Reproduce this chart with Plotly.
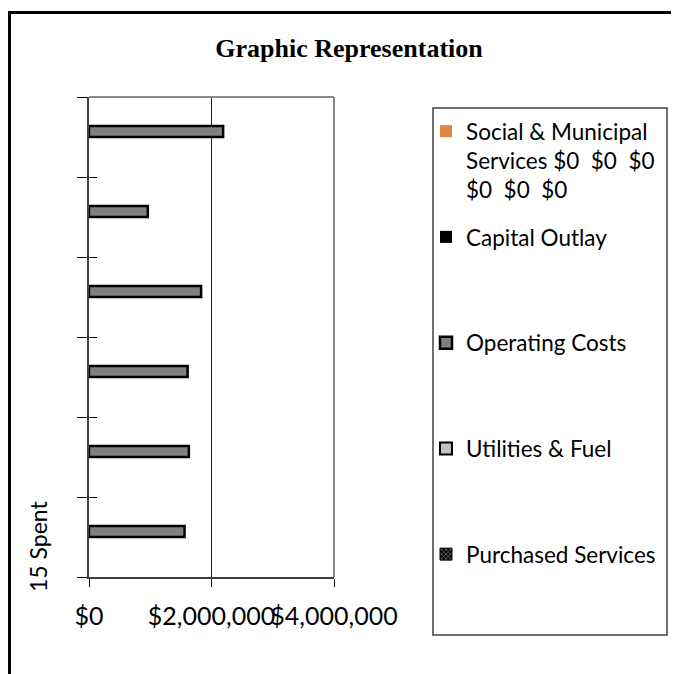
import plotly.graph_objects as go

# ---- data ----
categories = ["Year 1", "Year 2", "Year 3", "Year 4", "Year 5", "Year 6"]  # bottom -> top
purchased_services = [0, 0, 0, 0, 0, 0]
utilities_fuel = [0, 0, 0, 0, 0, 0]
operating_costs = [1560000, 1630000, 1610000, 1830000, 960000, 2190000]
capital_outlay = [0, 0, 0, 0, 0, 0]
social_municipal = [0, 0, 0, 0, 0, 0]
x_tickvals = [0, 2000000, 4000000]
x_ticktext = ["$0", "$2,000,000", "$4,000,000"]

OFF = 8  # page body margin
W, H = 679 - OFF, 674 - OFF
# plot area in page pixels
L, R, T, B = 89 - OFF, 334 - OFF, 97 - OFF, 577 - OFF


def px(xp):
    return (xp - OFF - L) / (R - L)


def py(yp):
    return (B - (yp - OFF)) / (B - T)


FONT = "Lato"
bw = 0.1375
pad = "<br>\u00a0<br>\u00a0"

fig = go.Figure()
fig.add_trace(go.Bar(y=categories, x=social_municipal, orientation="h",
                     name="Social & Municipal<br>Services $0\u00a0 $0\u00a0 $0<br>$0\u00a0 $0\u00a0 $0",
                     legendgroup="g5", width=bw, offset=0.0, legendrank=1,
                     marker=dict(color="#E0873F", line=dict(color="#E0873F", width=0))))
fig.add_trace(go.Bar(y=categories, x=capital_outlay, orientation="h",
                     name="Capital Outlay" + pad, legendgroup="g4",
                     width=bw, offset=0.0, legendrank=2,
                     marker=dict(color="black", line=dict(color="black", width=0))))
fig.add_trace(go.Bar(y=categories, x=utilities_fuel, orientation="h",
                     name="Utilities & Fuel" + pad, legendgroup="g2",
                     width=bw, offset=0.0, legendrank=4,
                     marker=dict(color="#c0c0c0", line=dict(color="black", width=2))))
fig.add_trace(go.Bar(y=categories, x=purchased_services, orientation="h",
                     name="Purchased Services", legendgroup="g1",
                     width=bw, offset=0.0, legendrank=5,
                     marker=dict(color="black", line=dict(color="black", width=1),
                                 pattern=dict(shape="x", fgcolor="white", bgcolor="black",
                                              size=4, solidity=0.4))))
fig.add_trace(go.Bar(y=categories, x=operating_costs, orientation="h",
                     name="Operating Costs" + pad, legendgroup="g3",
                     width=bw, offset=0.0, legendrank=3,
                     marker=dict(color="#808080", line=dict(color="black", width=2.5))))
# invisible helper on a twin axis so the category ticks also reach inside the plot
fig.add_trace(go.Scatter(y=categories, x=purchased_services, yaxis="y2", mode="markers",
                         marker=dict(opacity=0), showlegend=False, hoverinfo="skip"))

fig.update_layout(
    width=W, height=H,
    margin=dict(l=L, r=W - R, t=T, b=H - B, autoexpand=False),
    paper_bgcolor="white", plot_bgcolor="white",
    barmode="overlay",
    showlegend=True,
    title=dict(text="<b>Graphic Representation</b>", x=(349 - OFF) / W, xanchor="center",
               y=1 - (48 - OFF) / H, yanchor="middle",
               font=dict(family="Liberation Serif", size=26, color="black")),
    legend=dict(x=px(426), y=py(110), xanchor="left", yanchor="top",
                traceorder="grouped", tracegroupgap=15, valign="top",
                font=dict(family=FONT, size=22.5, color="black"),
                bgcolor="rgba(0,0,0,0)", borderwidth=0),
    xaxis=dict(range=[0, 4000000], tickvals=x_tickvals, ticktext=x_ticktext,
               tickangle=0, automargin=False,
               showgrid=True, gridcolor="#202020", gridwidth=1,
               showline=True, linecolor="#404040", linewidth=2,
               ticks="outside", ticklen=8, tickcolor="black", tickwidth=1,
               ticklabelstandoff=8,
               tickfont=dict(family=FONT, size=25, color="black"),
               zeroline=False, fixedrange=True),
    yaxis=dict(type="category", categoryorder="array", categoryarray=categories,
               showticklabels=False, showgrid=False, automargin=False,
               showline=True, linecolor="#404040", linewidth=2,
               ticks="outside", tickson="boundaries", ticklen=10, tickcolor="black", tickwidth=1,
               zeroline=False, fixedrange=True),
    yaxis2=dict(type="category", categoryorder="array", categoryarray=categories,
                overlaying="y", matches="y", side="left",
                showticklabels=False, showgrid=False, automargin=False, showline=False,
                ticks="inside", tickson="boundaries", ticklen=8, tickcolor="black", tickwidth=1,
                zeroline=False, fixedrange=True),
    shapes=[
        dict(type="line", xref="paper", yref="paper", x0=0, x1=1, y0=1, y1=1,
             line=dict(color="#888888", width=2)),
        dict(type="line", xref="paper", yref="paper", x0=1, x1=1, y0=0, y1=1,
             line=dict(color="#888888", width=2)),
        # legend box
        dict(type="rect", xref="paper", yref="paper", x0=px(433), x1=px(667), y0=py(635), y1=py(108),
             line=dict(color="#404040", width=1.5), fillcolor="rgba(0,0,0,0)"),
        # outer chart border
        dict(type="rect", xref="paper", yref="paper", x0=px(9.5), x1=px(740), y0=py(740), y1=py(12.5),
             line=dict(color="black", width=3), fillcolor="rgba(0,0,0,0)"),
    ],
    annotations=[
        dict(text="15 Spent", xref="paper", yref="paper", x=px(38), y=py(546),
             xanchor="center", yanchor="middle", textangle=-90, showarrow=False,
             font=dict(family=FONT, size=23, color="black")),
    ],
)

fig.write_html("out.html")
